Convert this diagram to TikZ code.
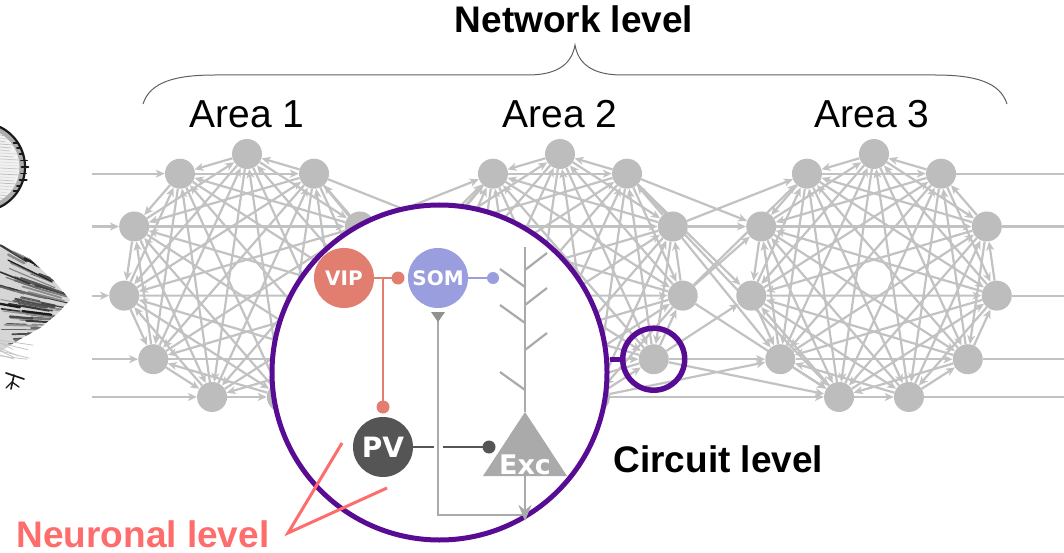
\documentclass[tikz,border=0pt]{standalone}
\usepackage{fontspec}
\setmainfont{Liberation Sans}
\newfontfamily\neufont{DejaVu Sans}
\usetikzlibrary{arrows.meta,calc}
\definecolor{netgrey}{RGB}{189,189,189}
\definecolor{linegrey}{RGB}{194,194,194}
\definecolor{purp}{RGB}{88,12,148}
\definecolor{vipc}{RGB}{226,126,112}
\definecolor{somc}{RGB}{154,158,222}
\definecolor{pvc}{RGB}{85,85,85}
\definecolor{excc}{RGB}{170,170,170}
\definecolor{coral}{RGB}{255,108,108}
\definecolor{bracec}{RGB}{95,95,95}
\definecolor{ink}{RGB}{25,25,25}
\pgfdeclarelayer{back}
\pgfsetlayers{back,main}

\begin{document}
\begin{tikzpicture}[x=1pt,y=-1pt,
  netnode/.style={circle, fill=netgrey, minimum size=30pt, inner sep=0pt},
  netline/.style={draw=linegrey, line width=2.2pt},
  netedge/.style={netline, -{Stealth[length=9pt,width=8pt,inset=2.5pt]}},
  neuron/.style={circle, minimum size=60pt, inner sep=0pt, text=white,
    font={\neufont\bfseries\fontsize{20}{22}\selectfont}},
  synapse/.style={line width=2.2pt},
  ring/.style={draw=purp, line width=5pt, circle, inner sep=0pt},
  title/.style={font={\bfseries\fontsize{37}{40}\selectfont}, anchor=base},
  arealabel/.style={font={\fontsize{39}{42}\selectfont}, anchor=base},
  sketch/.style={draw=ink, line cap=round}
]
\useasboundingbox (0,0) rectangle (1064,553);

% ---------- three areas of recurrently connected units ----------
\foreach \a/\cx in {1/247,2/560,3/874}{
  \foreach \k in {0,...,10}{
    \node[netnode] (a\a-\k) at ({\cx+124*cos(90-\k*360/11)},{278-124*sin(90-\k*360/11)}) {};
  }
}
\coordinate (inx) at (92,0);
\coordinate (outx) at (1064,0);

\begin{pgfonlayer}{back}
  % all-to-all connections within each area
  \foreach \a in {1,2,3}{
    \foreach \i in {0,...,9}{
      \pgfmathtruncatemacro\s{\i+1}
      \foreach \j in {\s,...,10}{
        \pgfmathtruncatemacro\p{mod(\i+\j,2)}
        \ifnum\p=0
          \draw[netedge] (a\a-\i) -- (a\a-\j);
        \else
          \draw[netedge] (a\a-\j) -- (a\a-\i);
        \fi
      }
    }
  }
  % feedforward projections between areas
  \foreach \s/\t in {1/9,1/7,2/10,2/8,3/10,3/6,4/9,4/7,5/8,5/6,2/6,4/10}
    \draw[netedge] (a1-\s) -- (a2-\t);
  \foreach \s/\t in {1/9,1/8,2/9,2/10,2/7,3/10,3/9,3/6,4/8,4/6,5/6,5/7,1/6,4/7}
    \draw[netedge] (a2-\s) -- (a3-\t);
  % external inputs and outputs
  \foreach \k in {6,...,10}
    \draw[netedge] (inx |- a1-\k) -- (a1-\k);
  \foreach \k in {1,...,5}
    \draw[netline] (a3-\k) -- (outx |- a3-\k);
\end{pgfonlayer}

% ---------- magnified local circuit ----------
\node[ring, fill=white, minimum size=335pt] (bigc) at (439.5,372.5) {};
\node[ring, minimum size=62pt, line width=5.5pt] (smallc) at (a2-4) {};
\draw[purp, line width=5pt] (smallc.west) -- (bigc.east |- smallc.west);

\node[neuron, fill=vipc] (vip) at (344,278) {VIP};
\node[neuron, fill=somc] (som) at (438,278) {SOM};
\node[neuron, fill=pvc, font={\neufont\bfseries\fontsize{28}{30}\selectfont}] (pv) at (383,447) {PV};

% excitatory pyramidal cell: dendritic tree, soma, axon
\coordinate (excapex) at (525,412);
\coordinate (excbase) at (525,476);
\coordinate (dendtop) at (525,247);
\draw[excc, line width=2.2pt] (dendtop) -- (excapex);
\foreach \y/\side in {270/1,287/-1,305/1,323/-1,350/1,390/-1}{
  \ifnum\side=1
    \draw[excc, line width=2.2pt] (525,\y) -- ++(22,-17);
  \else
    \draw[excc, line width=2.2pt] (525,\y) -- ++(-25,-18);
  \fi
}
\fill[excc] (excapex) -- ($(excbase)+(-42,0)$) -- ($(excbase)+(42,0)$) -- cycle;
\node[text=white, font={\neufont\bfseries\fontsize{27}{29}\selectfont}] (exc) at (525,465) {Exc};

% synaptic connections
\coordinate (vipbr) at (383,278);
\coordinate (vipsom) at (398,278);
\coordinate (vippv) at (383,407);
\coordinate (somexc) at (493,278);
\coordinate (somax) at (438,312);
\coordinate (axcorner) at (438,515);
\coordinate (axjoin) at (525,515);
\coordinate (axend) at (525,521);
\coordinate (gapl) at (434,447);
\coordinate (gapr) at (443,447);
\coordinate (pvexc) at (489,447);

\draw[vipc, synapse] (vip) -- (vipsom);
\draw[vipc, synapse] (vipbr) -- (vippv);
\fill[vipc] (vipsom) circle (6.5) (vippv) circle (6.5);

\draw[somc, synapse] (som) -- (somexc);
\fill[somc] (somexc) circle (6);

\draw[excc, synapse] (somax) -- (axcorner) -- (axjoin);
\fill[excc!85!black] ($(somax)+(-7,0)$) -- ($(somax)+(7,0)$) -- ($(somax)+(0,10)$) -- cycle;
\draw[excc, synapse, -{Stealth[length=16pt,width=13pt,inset=5pt]}] (excbase) -- (axend);

\draw[pvc, line width=2.5pt] (pv) -- (gapl);
\draw[pvc, line width=2.5pt] (gapr) -- (pvexc);
\fill[pvc] (pvexc) circle (6.5);

% ---------- labels ----------
\node[title] (nettxt) at (574,33) {Network level};
\node[arealabel] (ar1) at (247,128) {Area 1};
\node[arealabel] (ar2) at (560,128) {Area 2};
\node[arealabel] (ar3) at (872,128) {Area 3};
\node[title, anchor=base west] (cirtxt) at (610,472) {Circuit level};
\node[title, anchor=base west, text=coral] (neutxt) at (13,547) {Neuronal level};

% brace spanning the three areas
\draw[bracec, line width=1pt]
  (143,104) .. controls (150,82) and (175,75) .. (215,75)
  -- (528,75) .. controls (560,75) and (572,62) .. (575,45)
  .. controls (578,62) and (590,75) .. (622,75)
  -- (935,75) .. controls (975,75) and (1000,82) .. (1007,104);

% pointer to the single neurons
\coordinate (nlv) at (288,533);
\coordinate (nla) at (342,443);
\coordinate (nlb) at (387,488);
\draw[coral, line width=3pt] (nla) -- (nlv) -- (nlb);

% ---------- ink sketch of a neuron at the left edge ----------
\pgfmathsetseed{11}
% cell body: pale hatched disc with a dark fuzzy rim
\fill[ink!6] (-19.5,167) circle (44.5);
\foreach \y in {126,129,...,208}{
  \pgfmathsetmacro\half{sqrt(max(0,44.5*44.5-(\y-167)*(\y-167)))}
  \pgfmathsetmacro\shade{12+rnd*22}
  \draw[draw=ink!\shade, line width=0.7pt] (0,\y) -- ({-19.5+\half-4-rnd*8},\y+1);
}
\draw[ink!35, line width=6pt] plot[domain=-64:64, samples=40] ({-19.5+42*cos(\x)},{167+42*sin(\x)});
\draw[sketch, line width=2.2pt] plot[domain=-64:64, samples=40] ({-19.5+44.5*cos(\x)},{167+44.5*sin(\x)});
\foreach \t in {-36,-27,...,36}{
  \pgfmathsetmacro\len{3+rnd*5}
  \draw[sketch, line width=1.8pt] ({-19.5+41*cos(\t)},{167+41*sin(\t)}) -- ++(\len,0);
}
% dendritic tuft: a dense brush of dark strokes
\begin{scope}
  \clip (0,244) -- (30,259) -- (55,282) -- (70,300) -- (58,313) -- (40,328) -- (15,342) -- (0,352) -- cycle;
  \fill[ink!18] (0,240) rectangle (75,355);
  \foreach \i in {1,...,90}{
    \pgfmathsetmacro\ya{244+rnd*108}
    \pgfmathsetmacro\xa{rnd*40}
    \pgfmathsetmacro\f{(\ya-244)/108}
    \pgfmathsetmacro\ang{32-\f*40}
    \pgfmathsetmacro\len{18+rnd*32}
    \pgfmathsetmacro\lw{0.7+rnd*1.8}
    \pgfmathsetmacro\shade{45+rnd*55}
    \draw[sketch, draw=ink!\shade, line width=\lw pt] (\xa,\ya) -- ++({\len*cos(\ang)},{\len*sin(\ang)});
  }
\end{scope}
\foreach \i in {1,...,8}{
  \pgfmathsetmacro\ya{340+rnd*16}
  \pgfmathsetmacro\xb{10+rnd*25}
  \draw[sketch, draw=ink!25, line width=0.8pt] (0,\ya) -- (\xb,\ya+3+rnd*5);
}
\draw[sketch, line width=1.6pt] (6,373) -- (24,379);
\draw[sketch, line width=1.6pt] (14,375) -- (11,389);
\draw[sketch, line width=1.3pt] (12,382) -- (6,388);
\draw[sketch, line width=1.3pt] (12,382) -- (19,387);
\end{tikzpicture}
\end{document}
